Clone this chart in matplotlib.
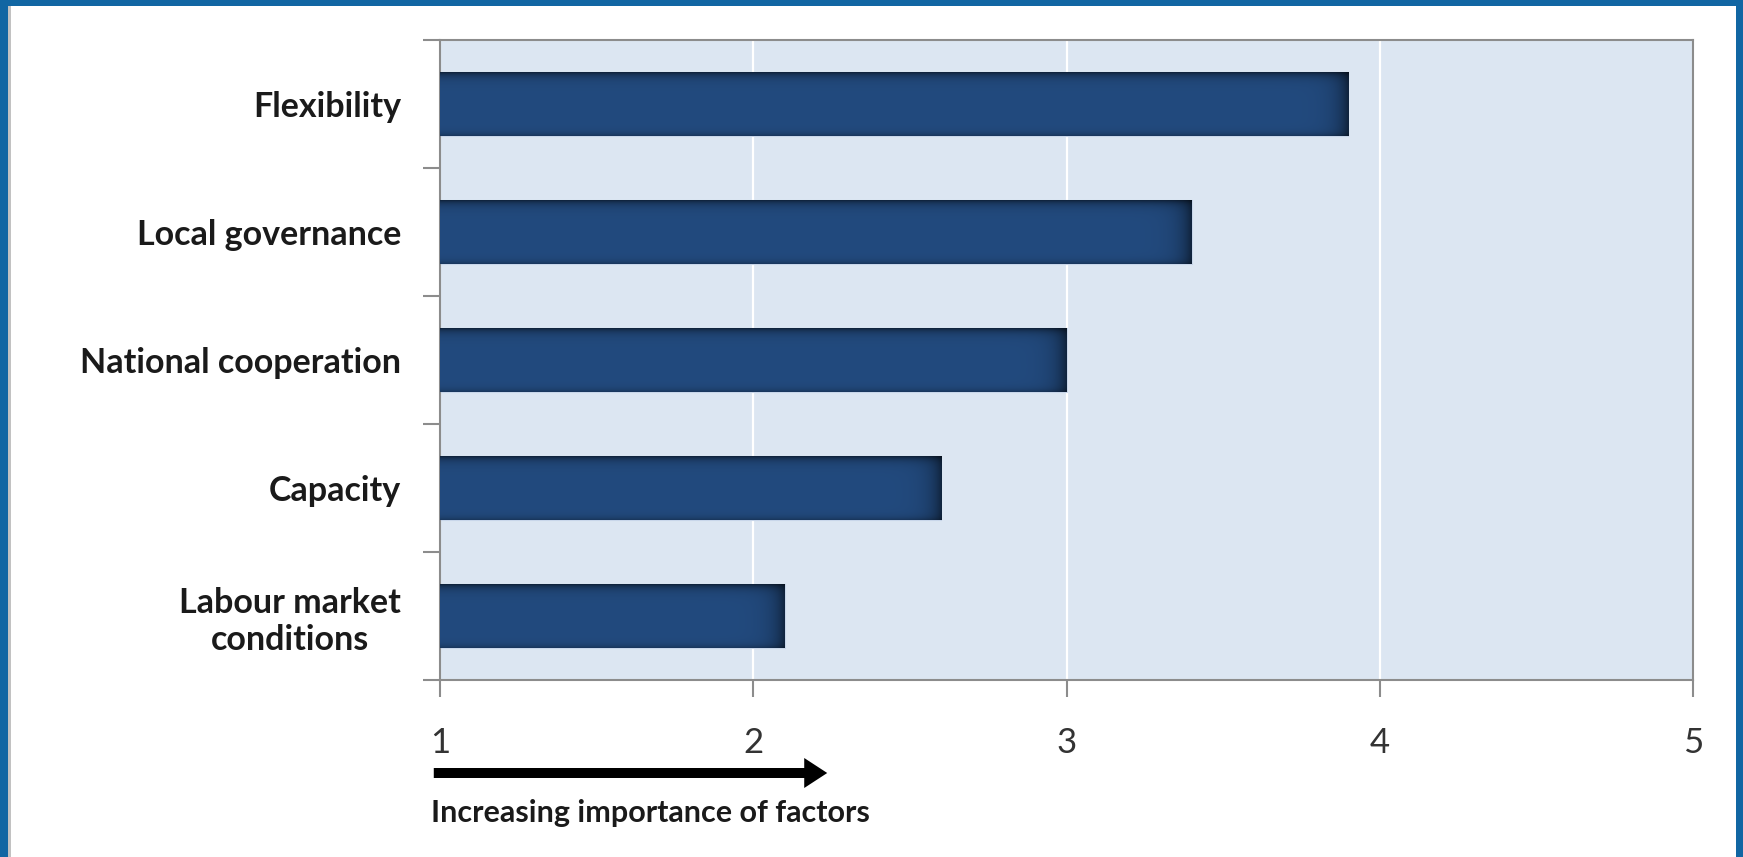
import numpy as np
import matplotlib
matplotlib.use("Agg")
import matplotlib.pyplot as plt
from matplotlib.patches import Rectangle, FancyArrowPatch

# factor scores (1 = least important, 5 = most important)
factors = ["Labour market\nconditions", "Capacity", "National cooperation",
           "Local governance", "Flexibility"]
scores = [2.1, 2.6, 3.0, 3.4, 3.9]
x_ticks = [1, 2, 3, 4, 5]
caption = "Increasing importance of factors"

plt.rcParams['font.family'] = ['Lato', 'DejaVu Sans']

W, H = 1743, 857
fig = plt.figure(figsize=(W / 100, H / 100), dpi=100)
fig.patch.set_facecolor("white")

# plot area in pixel terms
left, right, top, bottom = 440, 1693, 40, 680
ax = fig.add_axes([left / W, 1 - bottom / H, (right - left) / W, (bottom - top) / H])
ax.set_facecolor("#dce6f2")

for xv in x_ticks[1:-1]:
    ax.axvline(xv, color="white", lw=1.6, zorder=1)

ypos = np.arange(len(factors))
bar_h = 0.5
base = np.array([34, 74, 126]) / 255.0
bars = ax.barh(ypos, np.array(scores) - 1, left=1, height=bar_h,
               color="#22497e", edgecolor="#c8d6ea", lw=0.8, zorder=2)

# shaded fill: darker along top/bottom edges and toward the bar end
for b, v in zip(bars, scores):
    x0, y0 = b.get_x(), b.get_y()
    w, h = b.get_width(), b.get_height()
    ny, nx = 60, 400
    t = np.linspace(0, 1, ny)[:, None]
    xs = np.linspace(x0, x0 + w, nx)[None, :]
    vert = 1 - 0.5 * np.exp(-t / 0.07) - 0.25 * np.exp(-(1 - t) / 0.05)
    horiz = 1 - 0.5 * np.exp(-(x0 + w - xs) / 0.035)
    shade = vert * horiz
    img = base[None, None, :] * shade[:, :, None]
    ax.imshow(img, extent=(x0, x0 + w, y0, y0 + h), aspect="auto",
              origin="upper", interpolation="bilinear", zorder=3)

ax.set_xlim(1, 5)
ax.set_ylim(-0.5, len(factors) - 0.5)

for s in ax.spines.values():
    s.set_color("#8c8c8c")
    s.set_linewidth(1.5)

ax.set_xticks(x_ticks)
ax.set_xticklabels([str(x) for x in x_ticks])
ax.tick_params(axis="x", length=12, width=1.5, color="#8c8c8c",
               labelsize=25, labelcolor="#333333", pad=22)

# tick marks sit between categories, labels at the centers
ax.set_yticks(np.arange(-0.5, len(factors), 1.0))
ax.set_yticklabels([])
ax.tick_params(axis="y", which="major", length=12, width=1.5, color="#8c8c8c")
ax.set_yticks(ypos, minor=True)
ax.set_yticklabels(factors, minor=True, fontsize=24.5, fontweight="bold",
                   color="#1a1a1a", linespacing=1.2)
ax.tick_params(axis="y", which="minor", length=0, pad=28)
for lbl in ax.get_yticklabels(minor=True):
    lbl.set_multialignment("center")

# importance arrow and caption below the axis
arrow = FancyArrowPatch((431, H - 773), (830, H - 773), transform=None,
                        arrowstyle="simple,head_length=2.3,head_width=3.0,tail_width=1.0",
                        mutation_scale=7.2, color="black", lw=0)
fig.patches.append(arrow)
fig.text(431 / W, 1 - 813 / H, caption, fontsize=22, fontweight="bold",
         color="#1a1a1a", ha="left", va="center")

# blue frame around the panel
frame = "#1166a3"
fig.patches.append(Rectangle((0, 0), 8 / W, 1, transform=fig.transFigure,
                             color=frame, lw=0))
fig.patches.append(Rectangle((0, 1 - 6 / H), 1, 6 / H, transform=fig.transFigure,
                             color=frame, lw=0))
fig.patches.append(Rectangle((1 - 7 / W, 0), 7 / W, 1, transform=fig.transFigure,
                             color=frame, lw=0))
fig.patches.append(Rectangle((8 / W, 0), 3 / W, 1 - 6 / H, transform=fig.transFigure,
                             color="#9a9a9a", lw=0, alpha=0.6))

fig.savefig("out.png", dpi=100, facecolor="white")
